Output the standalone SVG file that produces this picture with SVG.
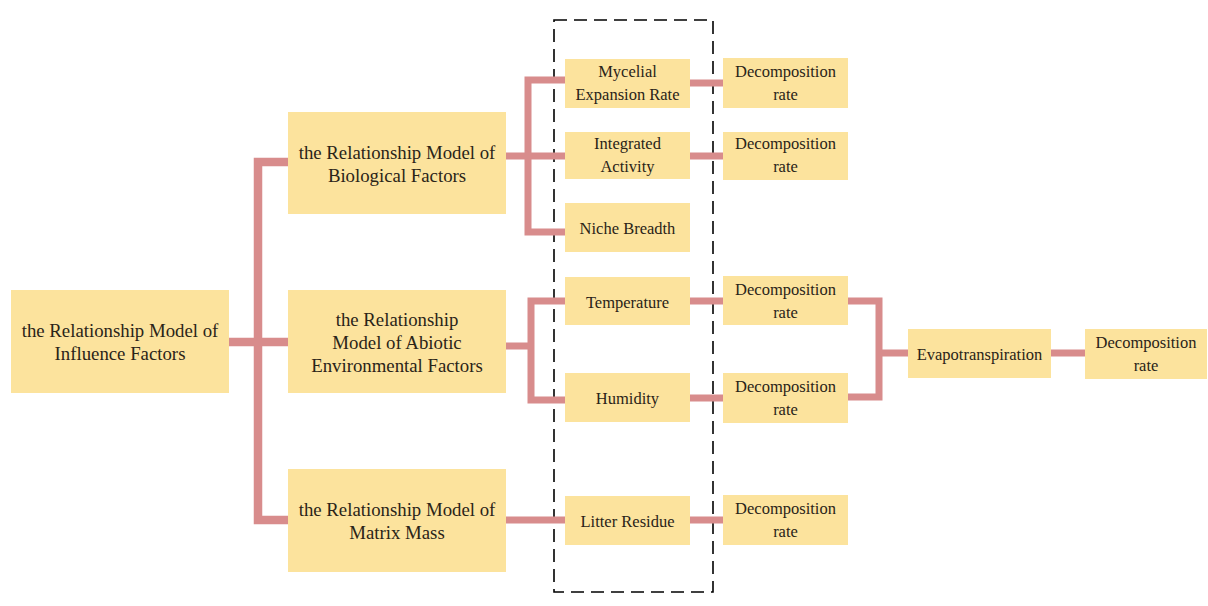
<svg xmlns="http://www.w3.org/2000/svg" width="1208" height="606" viewBox="0 0 1208 606">
<style>
.box{fill:#FCE39D;}
.t{fill:#2a2418;text-anchor:middle;dominant-baseline:central;}
.big{font-size:18.8px;}
.sm{font-size:16.5px;}
.con{fill:none;stroke:#D88C8C;stroke-width:7;stroke-linejoin:miter;}
.trunk{stroke-width:8.5;}
</style>
<rect width="1208" height="606" fill="#ffffff"/>
<rect x="554" y="20" width="159" height="572" fill="none" stroke="#000" stroke-width="1.6" stroke-dasharray="13 7"/>
<g id="connectors">
<path class="con trunk" d="M288,162 H258 V520 H288 M229,342 H288"/>
<path class="con" d="M506,156 H528 M565,80 H528 V232 H565 M528,156 H565"/>
<path class="con" d="M690,83 H723 M690,156 H723"/>
<path class="con" d="M506,346 H531 M565,301 H531 V400 H565"/>
<path class="con" d="M690,301 H723 M690,398 H723"/>
<path class="con" d="M506,520 H565 M690,520 H723"/>
<path class="con" d="M848,301 H879 V397 H848 M879,353 H908"/>
<path class="con" d="M1051,353 H1085"/>
</g>
<g font-family="'Liberation Serif', 'DejaVu Serif', serif">
<g id="root"><rect class="box" x="11" y="290" width="218" height="103"/>
<text class="t big" x="120" y="330">the Relationship Model of</text><text class="t big" x="120" y="353">Influence Factors</text></g>
<g id="bio"><rect class="box" x="288" y="112" width="218" height="102"/>
<text class="t big" x="397" y="152">the Relationship Model of</text><text class="t big" x="397" y="175">Biological Factors</text></g>
<g id="abiotic"><rect class="box" x="288" y="290" width="218" height="103"/>
<text class="t big" x="397" y="319">the Relationship</text><text class="t big" x="397" y="342">Model of Abiotic</text><text class="t big" x="397" y="365">Environmental Factors</text></g>
<g id="matrix"><rect class="box" x="288" y="469" width="218" height="103"/>
<text class="t big" x="397" y="509">the Relationship Model of</text><text class="t big" x="397" y="532">Matrix Mass</text></g>
<g id="mycelial"><rect class="box" x="565" y="59" width="125" height="49"/>
<text class="t sm" x="627.5" y="71">Mycelial</text><text class="t sm" x="627.5" y="94">Expansion Rate</text></g>
<g id="integrated"><rect class="box" x="565" y="132" width="125" height="47"/>
<text class="t sm" x="627.5" y="143">Integrated</text><text class="t sm" x="627.5" y="166">Activity</text></g>
<g id="niche"><rect class="box" x="565" y="203" width="125" height="49"/>
<text class="t sm" x="627.5" y="228">Niche Breadth</text></g>
<g id="temperature"><rect class="box" x="565" y="277" width="125" height="48"/>
<text class="t sm" x="627.5" y="302">Temperature</text></g>
<g id="humidity"><rect class="box" x="565" y="373" width="125" height="49"/>
<text class="t sm" x="627.5" y="398">Humidity</text></g>
<g id="litter"><rect class="box" x="565" y="496" width="125" height="49"/>
<text class="t sm" x="627.5" y="521">Litter Residue</text></g>
<g id="decomp1"><rect class="box" x="723" y="58" width="125" height="50"/>
<text class="t sm" x="785.5" y="71">Decomposition</text><text class="t sm" x="785.5" y="94">rate</text></g>
<g id="decomp2"><rect class="box" x="723" y="132" width="125" height="48"/>
<text class="t sm" x="785.5" y="143">Decomposition</text><text class="t sm" x="785.5" y="166">rate</text></g>
<g id="decomp3"><rect class="box" x="723" y="276" width="125" height="49"/>
<text class="t sm" x="785.5" y="289">Decomposition</text><text class="t sm" x="785.5" y="312">rate</text></g>
<g id="decomp4"><rect class="box" x="723" y="373" width="125" height="50"/>
<text class="t sm" x="785.5" y="386">Decomposition</text><text class="t sm" x="785.5" y="409">rate</text></g>
<g id="decomp5"><rect class="box" x="723" y="495" width="125" height="50"/>
<text class="t sm" x="785.5" y="508">Decomposition</text><text class="t sm" x="785.5" y="531">rate</text></g>
<g id="evapo"><rect class="box" x="908" y="329" width="143" height="49"/>
<text class="t sm" x="979.5" y="354">Evapotranspiration</text></g>
<g id="decomp6"><rect class="box" x="1085" y="329" width="122" height="50"/>
<text class="t sm" x="1146" y="342">Decomposition</text><text class="t sm" x="1146" y="365">rate</text></g>
</g>
</svg>
